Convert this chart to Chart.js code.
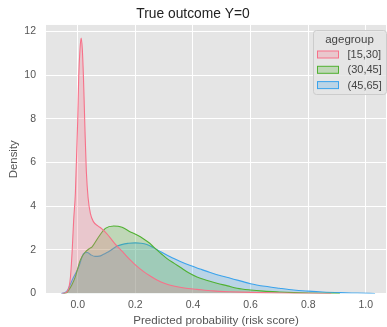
<!DOCTYPE html>
<html>
<head>
<meta charset="utf-8">
<script src="https://cdn.jsdelivr.net/npm/chart.js@4.4.1/dist/chart.umd.min.js"></script>
<style>
  html, body { margin: 0; padding: 0; background: #fff; }
  #wrap { width: 387px; height: 327px; }
</style>
</head>
<body>
<div id="wrap"><canvas id="kde"></canvas></div>
<script>
// density curves
const groups = ['[15,30]', '(30,45]', '(45,65]'];
const colors = ['#f77189', '#50b131', '#3ba3ec'];

const xYoung = [-0.055, -0.04, -0.03, -0.025, -0.019, -0.014, -0.008, 0.0, 0.0035, 0.008, 0.012, 0.016, 0.02, 0.025, 0.03, 0.036, 0.044, 0.055, 0.07, 0.085, 0.1, 0.113, 0.128, 0.142, 0.16, 0.183, 0.205, 0.229, 0.252, 0.275, 0.305, 0.333, 0.37, 0.414, 0.47, 0.53, 0.6, 0.7, 0.8, 0.88];
const yYoung = [0, 0.05, 0.3, 0.77, 1.99, 3.36, 4.6, 7.9, 9.9, 11.2, 11.7, 11.2, 9.9, 7.6, 5.6, 4.4, 3.67, 3.28, 3.1, 2.95, 2.75, 2.55, 2.3, 2.1, 1.85, 1.53, 1.25, 1.0, 0.8, 0.62, 0.45, 0.34, 0.25, 0.19, 0.12, 0.08, 0.05, 0.02, 0.01, 0];

const xMid = [-0.05, -0.04, -0.031, -0.02, -0.008, 0.009, 0.027, 0.04, 0.05, 0.073, 0.096, 0.125, 0.154, 0.183, 0.206, 0.229, 0.25, 0.264, 0.29, 0.31, 0.335, 0.356, 0.385, 0.414, 0.45, 0.483, 0.52, 0.553, 0.6, 0.645, 0.7, 0.75, 0.8, 0.85, 0.91];
const yMid = [0, 0.02, 0.16, 0.4, 0.77, 1.53, 1.91, 2.05, 2.14, 2.6, 2.98, 3.09, 3.03, 2.82, 2.68, 2.5, 2.3, 2.12, 1.82, 1.6, 1.38, 1.2, 0.95, 0.76, 0.6, 0.47, 0.35, 0.24, 0.16, 0.11, 0.07, 0.04, 0.02, 0.01, 0];

const xOld = [-0.057, -0.045, -0.035, -0.019, 0.004, 0.021, 0.033, 0.045, 0.06, 0.075, 0.09, 0.107, 0.137, 0.177, 0.2, 0.22, 0.24, 0.264, 0.29, 0.321, 0.356, 0.391, 0.425, 0.46, 0.5, 0.53, 0.6, 0.65, 0.7, 0.75, 0.8, 0.85, 0.91, 0.97, 1.032];
const yOld = [0, 0.03, 0.15, 0.62, 1.23, 1.84, 1.88, 1.78, 1.7, 1.71, 1.8, 1.91, 2.17, 2.3, 2.32, 2.3, 2.24, 2.09, 1.9, 1.68, 1.47, 1.28, 1.12, 0.96, 0.8, 0.7, 0.45, 0.33, 0.24, 0.16, 0.11, 0.07, 0.04, 0.02, 0];

const xTicks = [0, 0.2, 0.4, 0.6, 0.8, 1.0];
const yTicks = [0, 2, 4, 6, 8, 10, 12];

const FONT = '"Liberation Sans", Arial, sans-serif';

function toPoints(xs, ys) {
    return xs.map((x, i) => ({ x: x, y: ys[i] }));
}

function hexA(hex, a) {
    const n = parseInt(hex.slice(1), 16);
    return 'rgba(' + (n >> 16) + ',' + ((n >> 8) & 255) + ',' + (n & 255) + ',' + a + ')';
}

const series = [toPoints(xYoung, yYoung), toPoints(xMid, yMid), toPoints(xOld, yOld)];

// grey panel behind the plot, like the ggplot style
const panelBg = {
    id: 'panelBg',
    beforeDraw(chart) {
        const a = chart.chartArea, ctx = chart.ctx;
        ctx.save();
        ctx.fillStyle = '#e5e5e5';
        ctx.fillRect(a.left, a.top, a.right - a.left, a.bottom - a.top);
        ctx.restore();
    }
};

// framed legend with a title, top right
const boxLegend = {
    id: 'boxLegend',
    afterDraw(chart) {
        const ctx = chart.ctx;
        const bx = 313.5, by = 30.5, bw = 73, bh = 64;
        ctx.save();
        ctx.beginPath();
        ctx.roundRect(bx, by, bw, bh, 3);
        ctx.fillStyle = 'rgba(229,229,229,0.8)';
        ctx.fill();
        ctx.strokeStyle = '#cccccc';
        ctx.lineWidth = 1;
        ctx.stroke();

        ctx.font = '11.5px ' + FONT;
        ctx.fillStyle = '#444';
        ctx.textBaseline = 'middle';
        ctx.textAlign = 'center';
        ctx.fillText('agegroup', 349.5, 39.5);

        ctx.textAlign = 'left';
        ctx.font = '11px ' + FONT;
        groups.forEach((g, i) => {
            const ry = 54.5 + i * 15.3;
            ctx.fillStyle = hexA(colors[i], 0.25);
            ctx.fillRect(317, ry - 3.5, 22, 7);
            ctx.strokeStyle = colors[i];
            ctx.strokeRect(317.5, ry - 3.5, 21, 7);
            ctx.fillStyle = '#444';
            ctx.fillText(g, 347.5, ry + 0.5);
        });
        ctx.restore();
    }
};

const ctx = document.getElementById('kde').getContext('2d');
new Chart(ctx, {
    type: 'line',
    data: {
        datasets: groups.map((g, i) => ({
            label: g,
            data: series[i],
            borderColor: colors[i],
            backgroundColor: hexA(colors[i], 0.25),
            borderWidth: 1.1,
            fill: 'origin',
            pointRadius: 0,
            cubicInterpolationMode: 'monotone'
        }))
    },
    options: {
        responsive: true,
        maintainAspectRatio: false,
        animation: false,
        layout: { padding: { left: 0, right: 1, top: 0, bottom: 0 } },
        plugins: {
            legend: { display: false },
            tooltip: { enabled: false },
            title: {
                display: true,
                text: 'True outcome Y=0',
                color: '#222',
                font: { family: FONT, size: 13.8, weight: 'normal', lineHeight: 1.2 },
                padding: { top: 5.8, bottom: 2.6 }
            }
        },
        scales: {
            x: {
                type: 'linear',
                min: -0.11,
                max: 1.07,
                bounds: 'data',
                afterBuildTicks: s => { s.ticks = xTicks.map(v => ({ value: v })); },
                afterFit: s => { s.height = 33.5; },
                grid: { color: '#ffffff', lineWidth: 1, drawTicks: false },
                border: { display: false },
                ticks: {
                    padding: 5,
                    color: '#555',
                    font: { family: FONT, size: 10.5 },
                    maxRotation: 0,
                    callback: v => Number(v).toFixed(1)
                },
                title: {
                    display: true,
                    text: 'Predicted probability (risk score)',
                    color: '#555',
                    font: { family: FONT, size: 11.6, lineHeight: 1 },
                    padding: { top: 0, bottom: 0 }
                }
            },
            y: {
                type: 'linear',
                min: 0,
                max: 12.3,
                bounds: 'data',
                afterBuildTicks: s => { s.ticks = yTicks.map(v => ({ value: v })); },
                afterFit: s => { s.width = 46; },
                grid: { color: '#ffffff', lineWidth: 1, drawTicks: false },
                border: { display: false },
                ticks: {
                    padding: 10,
                    color: '#555',
                    font: { family: FONT, size: 10.5 },
                    callback: v => String(v)
                },
                title: {
                    display: true,
                    text: 'Density',
                    color: '#555',
                    font: { family: FONT, size: 11.4, lineHeight: 1.2 },
                    padding: { top: 7.2, bottom: 0 }
                }
            }
        }
    },
    plugins: [panelBg, boxLegend]
});
</script>
</body>
</html>
